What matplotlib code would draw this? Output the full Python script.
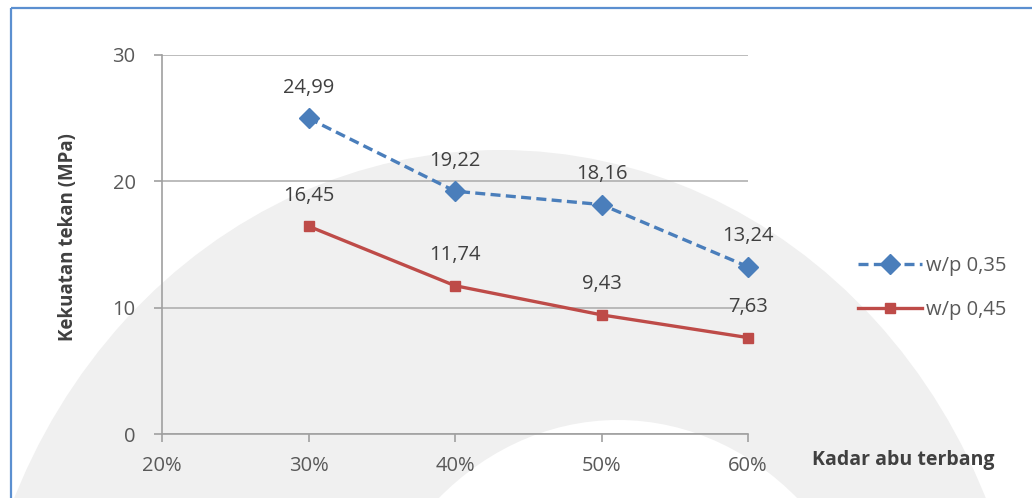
import matplotlib
matplotlib.use("Agg")
from matplotlib import pyplot as plt
from matplotlib.patches import Ellipse, Rectangle

# data
kadar = [30, 40, 50, 60]
wp035 = [24.99, 19.22, 18.16, 13.24]
wp045 = [16.45, 11.74, 9.43, 7.63]
series_names = ["w/p 0,35", "w/p 0,45"]
x_ticks = [20, 30, 40, 50, 60]
y_ticks = [0, 10, 20, 30]

plt.rcParams['font.family'] = ['Open Sans', 'DejaVu Sans']
TXT = "#595959"
BLUE = "#4a7ebb"
RED = "#be4b48"

fig = plt.figure(figsize=(10.32, 4.98), dpi=100)

# faint watermark arch in the background
bg = fig.add_axes([0, 0, 1, 1], zorder=-10)
bg.set_xlim(0, 1032)
bg.set_ylim(498, 0)
bg.axis("off")
bg.add_patch(Ellipse((500, 730), 1060, 1160, fc="#f0f0f0", ec="none"))
bg.add_patch(Ellipse((618, 730), 540, 620, fc="white", ec="none"))
# blue frame
bg.add_patch(Rectangle((11, 8), 1040, 520, fc="none", ec="#5b8fd0", lw=1.6))

ax = fig.add_axes([162 / 1032, 1 - 434 / 498, (748 - 162) / 1032, (434 - 55) / 498])
ax.patch.set_alpha(0)

ax.plot(kadar, wp035, color=BLUE, ls=(0, (3, 1.6)), lw=2.4, marker="D", ms=10.5,
        label=series_names[0], zorder=3, clip_on=False)
ax.plot(kadar, wp045, color=RED, lw=2.4, marker="s", ms=7.5,
        label=series_names[1], zorder=3, clip_on=False)

for xs, ys in ((kadar, wp035), (kadar, wp045)):
    for x, y in zip(xs, ys):
        ax.annotate(f"{y:.2f}".replace(".", ","), (x, y), xytext=(0, 22),
                    textcoords="offset points", ha="center", va="center",
                    fontsize=14.5, color="#404040")

ax.set_xlim(20, 60)
ax.set_ylim(0, 30)
ax.set_xticks(x_ticks)
ax.set_xticklabels([f"{t}%" for t in x_ticks])
ax.set_yticks(y_ticks)
ax.grid(axis="y", color="#b0b0b0", lw=1.2)
ax.set_axisbelow(True)
for s in ("top", "right"):
    ax.spines[s].set_visible(False)
for s in ("left", "bottom"):
    ax.spines[s].set_color("#a0a0a0")
    ax.spines[s].set_linewidth(1.2)
ax.tick_params(axis="both", colors="#a0a0a0", labelcolor=TXT, labelsize=14.5,
               length=6, width=1.2)
ax.tick_params(axis="x", pad=10)
ax.tick_params(axis="y", pad=13)

fig.text(68 / 1032, 1 - 237 / 498, "Kekuatan tekan (MPa)", rotation=90,
         ha="center", va="center", fontsize=13.5, fontweight="bold", color="#404040")
fig.text(812 / 1032, 1 - 460 / 498, "Kadar abu terbang", ha="left", va="center",
         fontsize=14, fontweight="bold", color="#404040")

fig.legend(loc="center left", bbox_to_anchor=(858 / 1032, 1 - 288 / 498),
           frameon=False, fontsize=14.5, labelcolor=TXT, handlelength=3.2,
           handletextpad=0.2, labelspacing=1.15, borderaxespad=0, borderpad=0)

fig.savefig("out.png", dpi=100)
